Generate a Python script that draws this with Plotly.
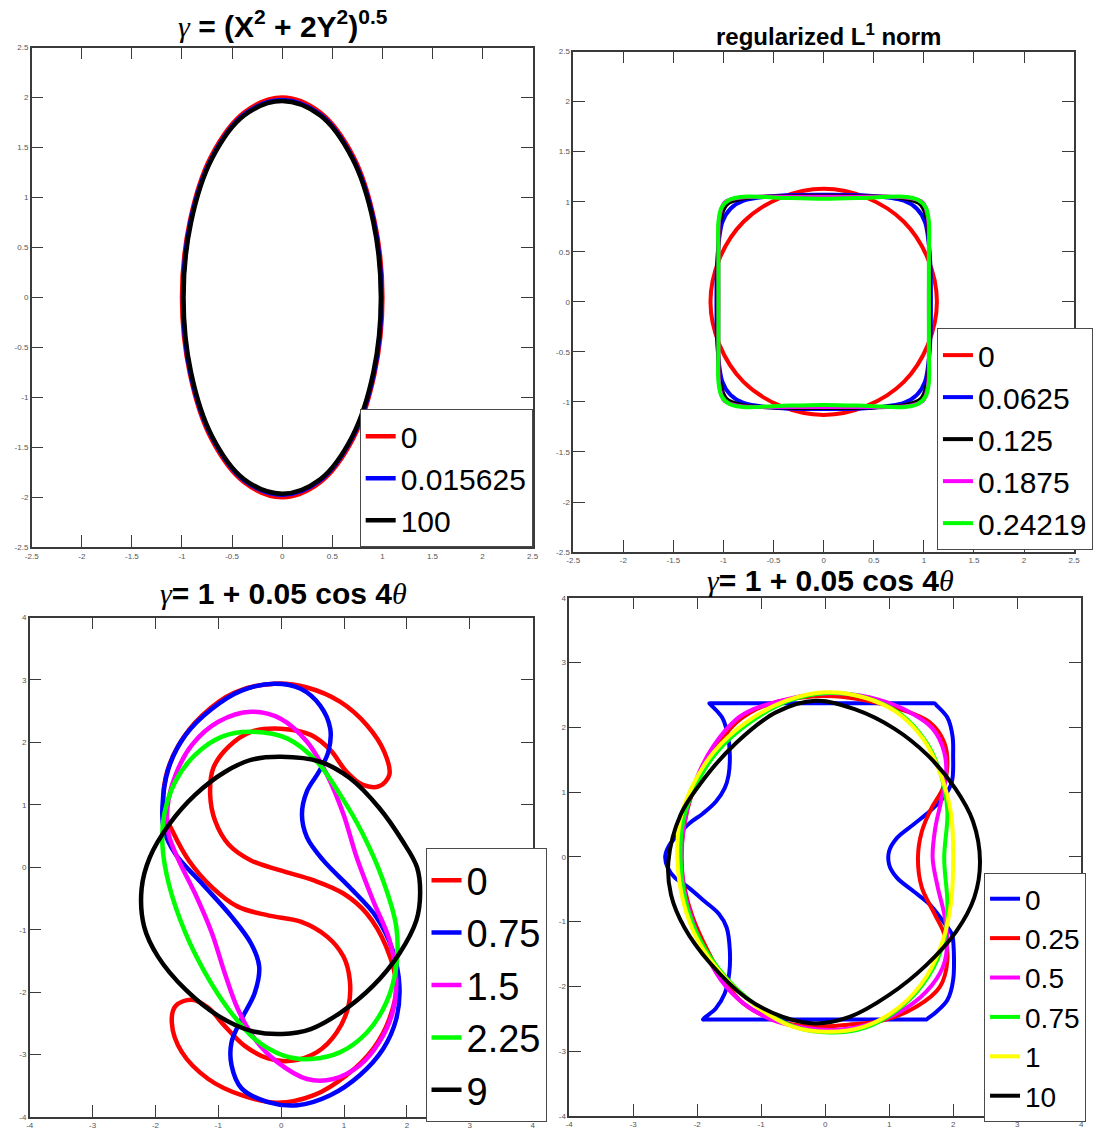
import plotly.graph_objects as go

# ---------------- tick values / labels ----------------
tick_vals_25 = [-2.5, -2, -1.5, -1, -0.5, 0, 0.5, 1, 1.5, 2, 2.5]
tick_text_25 = ["-2.5", "-2", "-1.5", "-1", "-0.5", "0", "0.5", "1", "1.5", "2", "2.5"]
tick_vals_4 = [-4, -3, -2, -1, 0, 1, 2, 3, 4]
tick_text_4 = ["-4", "-3", "-2", "-1", "0", "1", "2", "3", "4"]

# ---------------- panel 1: gamma = (X^2 + 2Y^2)^0.5 ----------------
p1_labels = ["0", "0.015625", "100"]
p1_colors = ["#ff0000", "#0000ff", "#000000"]
p1_x0 = [1.00, 0.92, 0.71, 0.38, 0.00, -0.38, -0.71, -0.92, -1.00, -0.92, -0.71, -0.38, 0.00, 0.38, 0.71, 0.92, 1.00]
p1_y0 = [0.00, 0.77, 1.41, 1.85, 2.00, 1.85, 1.41, 0.77, 0.00, -0.77, -1.41, -1.85, -2.00, -1.85, -1.41, -0.77, 0.00]
p1_x1 = [0.99, 0.915, 0.70, 0.38, 0.00, -0.38, -0.70, -0.915, -0.99, -0.915, -0.70, -0.38, 0.00, 0.38, 0.70, 0.915, 0.99]
p1_y1 = [0.00, 0.76, 1.40, 1.83, 1.975, 1.83, 1.40, 0.76, 0.00, -0.76, -1.40, -1.83, -1.975, -1.83, -1.40, -0.76, 0.00]
p1_x2 = [0.985, 0.91, 0.70, 0.38, 0.00, -0.38, -0.70, -0.91, -0.985, -0.91, -0.70, -0.38, 0.00, 0.38, 0.70, 0.91, 0.985]
p1_y2 = [0.00, 0.75, 1.39, 1.82, 1.965, 1.82, 1.39, 0.75, 0.00, -0.75, -1.39, -1.82, -1.965, -1.82, -1.39, -0.75, 0.00]

# ---------------- panel 2: regularized L1 norm ----------------
p2_labels = ["0", "0.0625", "0.125", "0.1875", "0.24219"]
p2_colors = ["#ff0000", "#0000ff", "#000000", "#ff00ff", "#00ff00"]
p2_x0 = [1.13, 1.04, 0.80, 0.43, 0.00, -0.43, -0.80, -1.04, -1.13, -1.04, -0.80, -0.43, 0.00, 0.43, 0.80, 1.04, 1.13]
p2_y0 = [0.00, 0.43, 0.80, 1.04, 1.13, 1.04, 0.80, 0.43, 0.00, -0.43, -0.80, -1.04, -1.13, -1.04, -0.80, -0.43, 0.00]
p2_x1 = [1.07, 1.06, 1.01, 0.93, 0.80, 0.45, 0.00, -0.45, -0.80, -0.93, -1.01, -1.06, -1.07, -1.06, -1.01, -0.93, -0.80, -0.45, 0.00, 0.45, 0.80, 0.93, 1.01, 1.06, 1.07]
p2_y1 = [0.00, 0.45, 0.80, 0.93, 1.01, 1.06, 1.07, 1.06, 1.01, 0.93, 0.80, 0.45, 0.00, -0.45, -0.80, -0.93, -1.01, -1.06, -1.07, -1.06, -1.01, -0.93, -0.80, -0.45, 0.00]
p2_x2 = [1.06, 1.055, 1.03, 0.97, 0.82, 0.45, 0.00, -0.45, -0.82, -0.97, -1.03, -1.055, -1.06, -1.055, -1.03, -0.97, -0.82, -0.45, 0.00, 0.45, 0.82, 0.97, 1.03, 1.055, 1.06]
p2_y2 = [0.00, 0.45, 0.82, 0.97, 1.03, 1.055, 1.06, 1.055, 1.03, 0.97, 0.82, 0.45, 0.00, -0.45, -0.82, -0.97, -1.03, -1.055, -1.06, -1.055, -1.03, -0.97, -0.82, -0.45, 0.00]
p2_x3 = [1.05, 1.05, 1.04, 0.99, 0.84, 0.45, 0.00, -0.45, -0.84, -0.99, -1.04, -1.05, -1.05, -1.05, -1.04, -0.99, -0.84, -0.45, 0.00, 0.45, 0.84, 0.99, 1.04, 1.05, 1.05]
p2_y3 = [0.00, 0.45, 0.84, 0.99, 1.04, 1.05, 1.05, 1.05, 1.04, 0.99, 0.84, 0.45, 0.00, -0.45, -0.84, -0.99, -1.04, -1.05, -1.05, -1.05, -1.04, -0.99, -0.84, -0.45, 0.00]
p2_x4 = [1.05, 1.05, 1.05, 1.02, 0.94, 0.80, 0.45, 0.00, -0.45, -0.80, -0.94, -1.02, -1.05, -1.05, -1.05, -1.05, -1.05, -1.02, -0.94, -0.80, -0.45, 0.00, 0.45, 0.80, 0.94, 1.02, 1.05, 1.05, 1.05]
p2_y4 = [0.00, 0.45, 0.80, 0.94, 1.02, 1.05, 1.04, 1.03, 1.04, 1.05, 1.02, 0.94, 0.80, 0.45, 0.00, -0.45, -0.80, -0.94, -1.02, -1.05, -1.04, -1.03, -1.04, -1.05, -1.02, -0.94, -0.80, -0.45, 0.00]

# ---------------- panel 3: gamma = 1 + 0.05 cos 4theta ----------------
p3_labels = ["0", "0.75", "1.5", "2.25", "9"]
p3_colors = ["#ff0000", "#0000ff", "#ff00ff", "#00ff00", "#000000"]
p3_x0 = [-1.86, -1.84, -1.63, -1.26, -0.74, -0.11, 0.41, 0.94, 1.36, 1.64, 1.72, 1.56, 1.30, 1.04, 0.78, 0.47, -0.01, -0.48, -0.84, -1.08,
         -1.13, -1.05, -0.84, -0.48, -0.01, 0.52, 0.99, 1.36, 1.67, 1.83, 1.72, 1.46, 1.04, 0.52, -0.06, -0.63, -1.16, -1.58, -1.74, -1.68,
         -1.42, -1.16, -0.90, -0.58, -0.21, 0.15, 0.57, 0.88, 1.07, 1.09, 0.99, 0.73, 0.31, -0.21, -0.69, -1.10, -1.47, -1.73, -1.86]
p3_y0 = [0.90, 1.43, 1.96, 2.43, 2.80, 2.94, 2.88, 2.65, 2.28, 1.85, 1.48, 1.30, 1.32, 1.53, 1.88, 2.12, 2.22, 2.17, 1.93, 1.59,
         1.16, 0.74, 0.37, 0.11, -0.05, -0.21, -0.42, -0.74, -1.27, -1.90, -2.43, -2.91, -3.33, -3.65, -3.77, -3.65, -3.39, -2.96, -2.49, -2.22,
         -2.12, -2.25, -2.54, -2.86, -3.06, -3.10, -2.96, -2.65, -2.22, -1.80, -1.43, -1.11, -0.87, -0.77, -0.63, -0.32, 0.11, 0.58, 0.90]
p3_x1 = [-1.89, -1.79, -1.52, -1.10, -0.63, -0.11, 0.31, 0.62, 0.78, 0.75, 0.60, 0.41, 0.33, 0.41, 0.67, 1.09, 1.51, 1.77, 1.88, 1.83,
         1.62, 1.25, 0.78, 0.26, -0.21, -0.63, -0.79, -0.79, -0.63, -0.42, -0.35, -0.48, -0.79, -1.26, -1.68, -1.86, -1.89]
p3_y1 = [0.95, 1.59, 2.12, 2.54, 2.83, 2.94, 2.86, 2.59, 2.22, 1.85, 1.53, 1.22, 0.85, 0.48, 0.11, -0.32, -0.79, -1.32, -1.90, -2.43,
         -2.91, -3.33, -3.65, -3.81, -3.76, -3.54, -3.17, -2.80, -2.43, -2.01, -1.59, -1.22, -0.79, -0.26, 0.21, 0.58, 0.95]
p3_x2 = [-0.48, -1.00, -1.42, -1.68, -1.81, -1.79, -1.63, -1.37, -1.10, -0.90, -0.69, -0.42, -0.06, 0.41, 0.83, 1.25, 1.56, 1.77,
         1.83, 1.72, 1.46, 1.20, 0.99, 0.73, 0.41, -0.01, -0.48]
p3_y2 = [2.49, 2.33, 1.96, 1.48, 0.95, 0.53, 0.11, -0.42, -1.06, -1.69, -2.27, -2.75, -3.12, -3.39, -3.39, -3.17, -2.80, -2.33,
         -1.80, -1.16, -0.53, 0.16, 0.85, 1.48, 2.01, 2.38, 2.49]
p3_x3 = [-0.48, -0.95, -1.37, -1.68, -1.86, -1.89, -1.79, -1.52, -1.21, -0.84, -0.42, 0.05, 0.47, 0.94, 1.36, 1.67, 1.83, 1.83,
         1.62, 1.30, 0.94, 0.57, 0.10, -0.48]
p3_y3 = [2.17, 2.09, 1.80, 1.38, 0.85, 0.37, -0.26, -1.06, -1.69, -2.27, -2.75, -3.02, -3.07, -2.96, -2.65, -2.17, -1.59, -0.95,
         -0.21, 0.53, 1.16, 1.69, 2.06, 2.17]
p3_x4 = [0.00, 0.62, 1.09, 1.56, 1.93, 2.16, 2.21, 2.15, 1.88, 1.46, 0.94, 0.47, 0.02, -0.48, -1.00, -1.52, -1.96, -2.18, -2.22,
         -2.09, -1.78, -1.37, -0.89, -0.48, 0.00]
p3_y4 = [1.77, 1.69, 1.43, 0.95, 0.42, 0.00, -0.42, -0.85, -1.38, -1.90, -2.33, -2.59, -2.67, -2.62, -2.38, -1.96, -1.43, -0.95, -0.34,
         0.16, 0.69, 1.16, 1.53, 1.72, 1.77]

# ---------------- panel 4: gamma = 1 + 0.05 cos 4theta ----------------
p4_labels = ["0", "0.25", "0.5", "0.75", "1", "10"]
p4_colors = ["#0000ff", "#ff0000", "#ff00ff", "#00ff00", "#ffff00", "#000000"]
p4_x0 = [-1.81, -1.76, -1.00, 0.00, 1.00, 1.66, 1.71, 1.74, 1.91, 1.99, 2.00, 1.98, 1.86, 1.63, 1.38, 1.12, 1.00, 1.00, 1.12, 1.38,
         1.63, 1.84, 1.98, 2.00, 2.00, 1.91, 1.74, 1.61, 1.58, 1.53, 1.00, 0.00, -1.00, -1.86, -1.91, -1.88, -1.71, -1.57, -1.50, -1.49,
         -1.54, -1.66, -1.89, -2.14, -2.35, -2.46, -2.50, -2.43, -2.30, -2.12, -1.91, -1.71, -1.57, -1.51, -1.49, -1.52, -1.61, -1.78, -1.81]
p4_y0 = [2.37, 2.37, 2.37, 2.37, 2.37, 2.37, 2.37, 2.34, 2.15, 1.87, 1.57, 1.16, 0.93, 0.70, 0.50, 0.29, 0.09, -0.12, -0.32, -0.53,
         -0.73, -0.99, -1.19, -1.29, -1.90, -2.21, -2.39, -2.49, -2.51, -2.51, -2.51, -2.51, -2.51, -2.51, -2.51, -2.48, -2.34, -2.11, -1.80, -1.44,
         -1.09, -0.88, -0.68, -0.47, -0.32, -0.17, 0.01, 0.19, 0.34, 0.52, 0.67, 0.85, 1.06, 1.26, 1.57, 1.87, 2.15, 2.34, 2.37]
p4_x1 = [-1.17, -1.38, -1.69, -1.94, -2.09, -2.20, -2.25, -2.20, -2.07, -1.84, -1.58, -1.28, -0.77, -0.20, 0.36, 0.92, 1.43, 1.79,
         1.91, 1.86, 1.71, 1.51, 1.45, 1.51, 1.66, 1.84, 1.91, 1.86, 1.63, 1.17, 0.66, 0.15, -0.36, -0.87, -1.17]
p4_y1 = [2.23, 2.08, 1.72, 1.31, 0.95, 0.50, -0.02, -0.47, -0.93, -1.44, -1.90, -2.26, -2.52, -2.62, -2.59, -2.52, -2.31, -2.01,
         -1.60, -1.19, -0.88, -0.47, -0.02, 0.39, 0.75, 1.06, 1.41, 1.77, 2.08, 2.28, 2.41, 2.48, 2.46, 2.36, 2.23]
p4_x2 = [-1.12, -1.38, -1.74, -1.99, -2.14, -2.22, -2.24, -2.21, -2.09, -1.89, -1.63, -1.28, -0.82, -0.31, 0.15, 0.66, 1.17, 1.58,
         1.84, 1.91, 1.86, 1.76, 1.68, 1.72, 1.81, 1.89, 1.86, 1.68, 1.33, 0.82, 0.25, -0.26, -0.77, -1.12]
p4_y2 = [2.28, 2.13, 1.72, 1.26, 0.80, 0.39, -0.02, -0.47, -0.93, -1.44, -1.90, -2.26, -2.52, -2.64, -2.67, -2.59, -2.39, -2.08,
         -1.70, -1.29, -0.88, -0.47, -0.02, 0.44, 0.85, 1.26, 1.62, 1.98, 2.23, 2.43, 2.52, 2.50, 2.39, 2.28]
p4_x3 = [-2.26, -2.22, -2.04, -1.69, -1.17, -0.56, 0.05, 0.66, 1.17, 1.58, 1.81, 1.91, 1.86, 1.91, 1.86, 1.61, 1.20, 0.64, 0.08,
         -0.49, -1.05, -1.56, -1.95, -2.18, -2.26]
p4_y3 = [-0.02, 0.55, 1.06, 1.62, 2.08, 2.41, 2.53, 2.45, 2.21, 1.77, 1.26, 0.70, -0.02, -0.73, -1.29, -1.85, -2.31, -2.63, -2.71,
         -2.62, -2.31, -1.85, -1.29, -0.68, -0.02]
p4_x4 = [-2.31, -2.27, -2.09, -1.74, -1.23, -0.61, 0.00, 0.61, 1.12, 1.53, 1.81, 1.97, 2.00, 1.97, 1.84, 1.58, 1.17, 0.61, 0.05,
         -0.51, -1.07, -1.58, -1.99, -2.22, -2.31]
p4_y4 = [-0.02, 0.55, 1.06, 1.62, 2.08, 2.41, 2.54, 2.46, 2.23, 1.82, 1.26, 0.65, -0.02, -0.68, -1.29, -1.85, -2.31, -2.62, -2.70,
         -2.62, -2.31, -1.85, -1.29, -0.68, -0.02]
p4_x5 = [-2.45, -2.41, -2.20, -1.79, -1.23, -0.66, -0.15, 0.38, 1.00, 1.58, 2.05, 2.33, 2.42, 2.31, 2.03, 1.60, 1.08, 0.46, -0.15,
         -0.77, -1.38, -1.89, -2.26, -2.45]
p4_y5 = [-0.07, -0.58, -1.09, -1.65, -2.18, -2.47, -2.57, -2.47, -2.13, -1.67, -1.15, -0.63, -0.07, 0.55, 1.06, 1.57, 1.98, 2.28, 2.41,
         2.23, 1.77, 1.21, 0.65, -0.07]

W, H = 1095, 1130
SANS = "Liberation Sans, Arial, Helvetica, sans-serif"
FRAME = "#3a3a3a"

fig = go.Figure()


def add_curves(xs, ys, labels, colors, axis_id, legend_id, width):
    for x, y, lab, col in zip(xs, ys, labels, colors):
        fig.add_trace(go.Scatter(
            x=x, y=y, mode="lines", name=lab,
            line=dict(color=col, width=width, shape="spline", smoothing=1.0),
            xaxis="x" + axis_id, yaxis="y" + axis_id,
            legend=legend_id, showlegend=True, hoverinfo="skip",
        ))


add_curves([p1_x0, p1_x1, p1_x2], [p1_y0, p1_y1, p1_y2], p1_labels, p1_colors, "", "legend", 4.5)
add_curves([p2_x0, p2_x1, p2_x2, p2_x3, p2_x4], [p2_y0, p2_y1, p2_y2, p2_y3, p2_y4],
           p2_labels, p2_colors, "2", "legend2", 4)
add_curves([p3_x0, p3_x1, p3_x2, p3_x3, p3_x4], [p3_y0, p3_y1, p3_y2, p3_y3, p3_y4],
           p3_labels, p3_colors, "3", "legend3", 4.5)
add_curves([p4_x0, p4_x1, p4_x2, p4_x3, p4_x4, p4_x5], [p4_y0, p4_y1, p4_y2, p4_y3, p4_y4, p4_y5],
           p4_labels, p4_colors, "4", "legend4", 4)


def axis(rng, vals, text, domain, anchor):
    return dict(
        range=rng, tickvals=vals, ticktext=text, domain=domain, anchor=anchor,
        showgrid=False, zeroline=False, showline=True, linecolor=FRAME, linewidth=1.5,
        mirror="ticks", ticks="inside", ticklen=12, tickwidth=1.3, tickcolor=FRAME,
        tickfont=dict(family=SANS, size=8, color="#555555"),
    )


def dom_x(a, b):
    return [a / W, b / W]


def dom_y(top, bottom):
    return [1 - bottom / H, 1 - top / H]


def legend_box(right, bottom, size):
    return dict(
        x=right / W, y=1 - bottom / H, xanchor="right", yanchor="bottom",
        bgcolor="white", bordercolor="#4a4a4a", borderwidth=1,
        font=dict(family=SANS, size=size, color="black"),
        itemwidth=30, tracegroupgap=0,
    )


gam = "<span style='font-family:Liberation Serif;font-weight:normal'><i>γ</i></span>"
tht = "<span style='font-family:Liberation Serif;font-weight:normal'><i>θ</i></span>"
titles = [
    (gam + " = (X<sup>2</sup> + 2Y<sup>2</sup>)<sup>0.5</sup>", 279, 20, 30),
    ("regularized L<sup>1</sup> norm", 831, 31, 24),
    (gam + "= 1 + 0.05 cos 4" + tht, 280, 595, 30),
    (gam + "= 1 + 0.05 cos 4" + tht, 833, 582, 30),
]

fig.update_layout(
    width=W, height=H, margin=dict(l=0, r=0, t=0, b=0),
    paper_bgcolor="white", plot_bgcolor="white",
    xaxis=axis([-2.5, 2.5], tick_vals_25, tick_text_25, dom_x(25, 532), "y"),
    yaxis=axis([-2.5, 2.5], tick_vals_25, tick_text_25, dom_y(44, 548), "x"),
    xaxis2=axis([-2.5, 2.5], tick_vals_25, tick_text_25, dom_x(573, 1080), "y2"),
    yaxis2=axis([-2.5, 2.5], tick_vals_25, tick_text_25, dom_y(48, 553), "x2"),
    xaxis3=axis([-4, 4], tick_vals_4, tick_text_4, dom_x(23, 532), "y3"),
    yaxis3=axis([-4, 4], tick_vals_4, tick_text_4, dom_y(619, 1123), "x3"),
    xaxis4=axis([-4, 4], tick_vals_4, tick_text_4, dom_x(569, 1087), "y4"),
    yaxis4=axis([-4, 4], tick_vals_4, tick_text_4, dom_y(599, 1122), "x4"),
    legend=legend_box(532, 548, 30),
    legend2=legend_box(1099, 551, 30),
    legend3=legend_box(546, 1128, 38),
    legend4=legend_box(1092, 1128, 28),
    annotations=[
        dict(text="<b>" + t + "</b>", x=cx / W, y=1 - cy / H, xref="paper", yref="paper",
             xanchor="center", yanchor="middle", showarrow=False,
             font=dict(family=SANS, size=s, color="black"))
        for t, cx, cy, s in titles
    ],
)

fig.write_html("out.html")
